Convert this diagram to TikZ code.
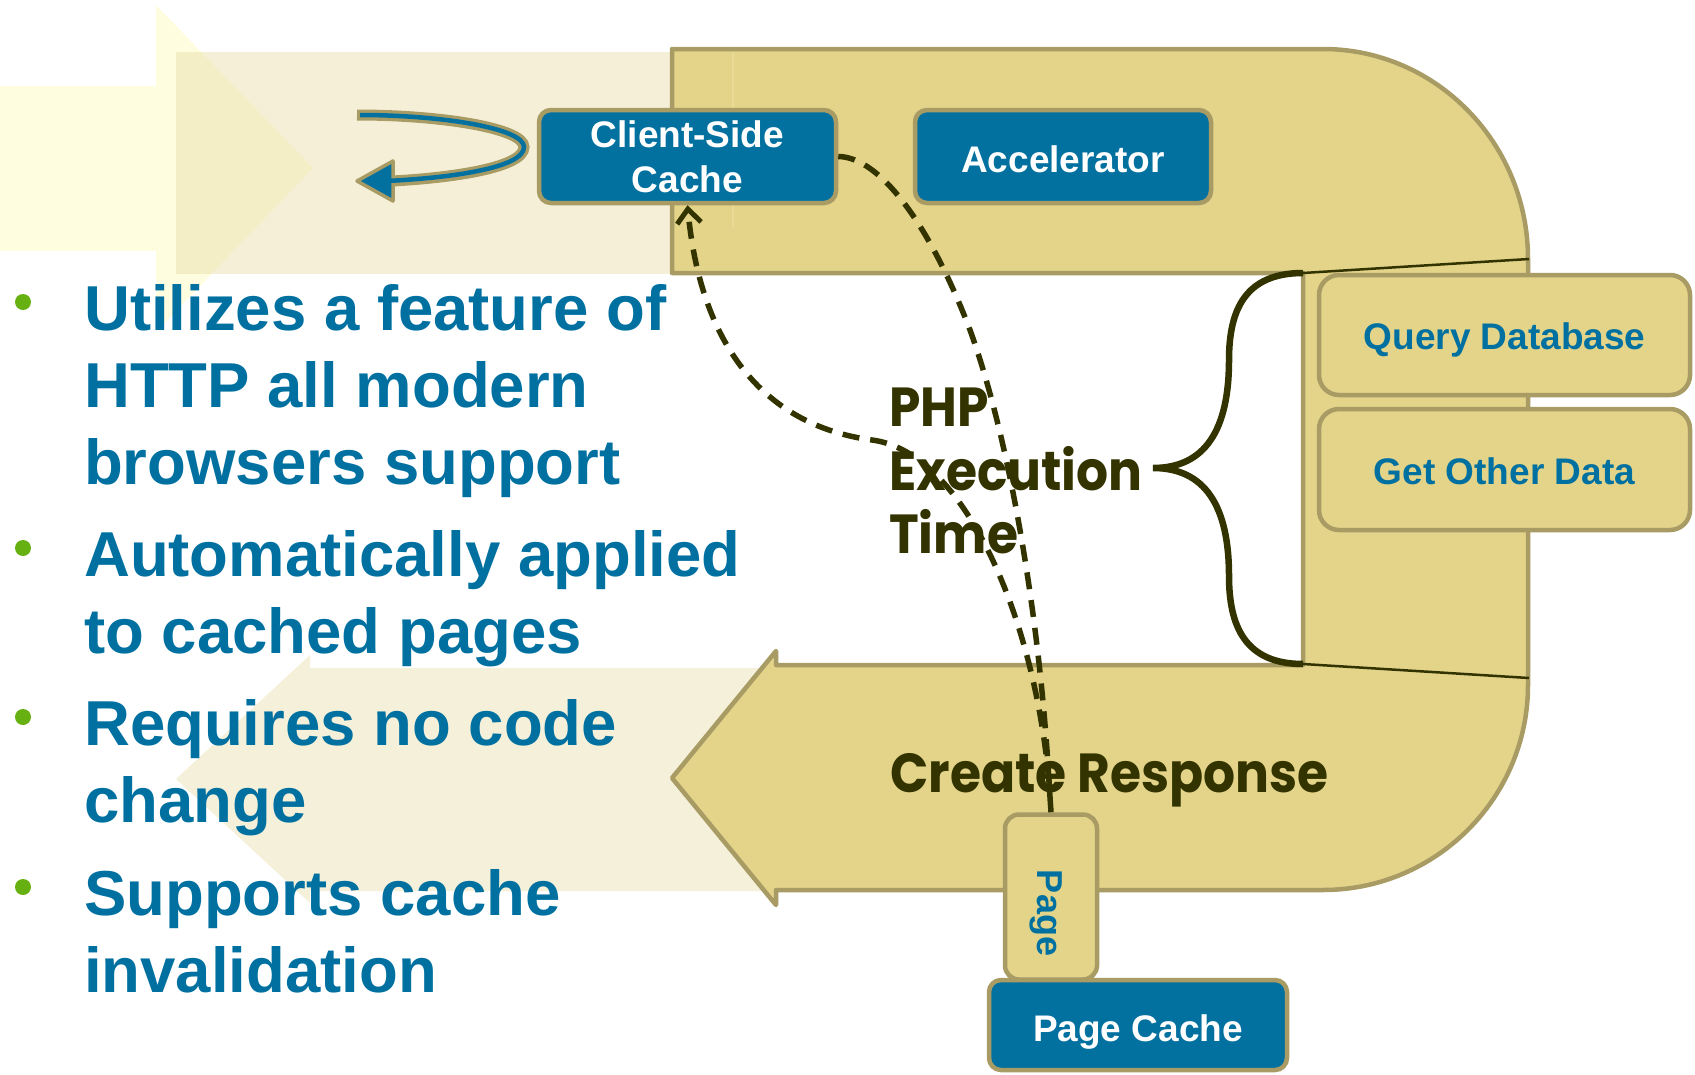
\documentclass[tikz,border=0pt]{standalone}
\usepackage{fontspec}
\setmainfont{Liberation Sans}
\newfontfamily\geofont[FakeStretch=0.915]{Poppins}
\usetikzlibrary{arrows.meta}

\definecolor{tanfill}{HTML}{E3D48A}
\definecolor{tanline}{HTML}{A89B64}
\definecolor{boxblue}{HTML}{0371A0}
\definecolor{textblue}{HTML}{0070A0}
\definecolor{paleyellow}{HTML}{FFFDDF}
\definecolor{bandtone}{HTML}{EBE0B0}
\definecolor{beige}{HTML}{F5F0D9}
\definecolor{darkolive}{HTML}{333300}
\definecolor{dotgreen}{HTML}{66B012}
\definecolor{seam}{HTML}{E9DB97}

\begin{document}
\begin{tikzpicture}[x=1pt,y=-1pt,
  bluebox/.style={draw=tanline, line width=4.5pt, fill=boxblue, rounded corners=12pt,
    text=white, font=\fontsize{37}{45}\selectfont\bfseries, align=center, inner sep=0pt},
  tanbox/.style={draw=tanline, line width=4.5pt, fill=tanfill, rounded corners=20pt,
    text=textblue, font=\fontsize{37}{44}\selectfont\bfseries, inner sep=0pt,
    text height=29pt, text depth=0pt},
  tabbox/.style={draw=tanline, line width=4.5pt, fill=tanfill, rounded corners=14pt, inner sep=0pt},
  bullettext/.style={anchor=base west, inner sep=0pt, text=textblue,
    font=\fontsize{63.5}{77}\selectfont\bfseries},
  geotext/.style={anchor=base west, inner sep=0pt, text=darkolive,
    font=\geofont\fontsize{55}{64}\selectfont\bfseries},
  bulletdot/.style={circle, fill=dotgreen, minimum size=16pt, inner sep=0pt},
  flow/.style={draw=darkolive, line width=5.5pt, dash pattern=on 17pt off 11pt},
]
\useasboundingbox (0,0) rectangle (1695,1074);

% pale incoming arrow behind the top band
\fill[paleyellow] (0,86) -- (156,86) -- (156,5) -- (313,168) -- (156,332) -- (156,251) -- (0,251) -- cycle;
% translucent request band
\fill[bandtone, opacity=0.5] (176,52) rectangle (733,274);
% pale outgoing arrow behind the bullets
\fill[beige] (176,779) -- (310,655) -- (310,668) -- (780,668) -- (780,891) -- (310,891) -- (310,903) -- cycle;

% the request/response loop
\filldraw[fill=tanfill, draw=tanline, line width=4.5pt, line join=round]
  (672,778) -- (776,651) -- (776,665) -- (1303,665) -- (1303,273) -- (672,273) -- (672,49) -- (1323,49)
  .. controls (1436,49) and (1528,143) .. (1528,259)
  -- (1528,685) .. controls (1528,798) and (1436,890) .. (1323,890)
  -- (776,890) -- (776,905) -- cycle;
\draw[seam, line width=1.5pt] (733,53) -- (733,227);

% boxes
\node[bluebox, minimum width=297pt, minimum height=93pt] (csc) at (687.5,156.5) {Client-Side\\Cache};
\node[bluebox, minimum width=296pt, minimum height=93pt, text height=31pt, text depth=0pt] (acc) at (1063,156.5) {Accelerator};
\node[tanbox, minimum width=371pt, minimum height=120pt] (qd) at (1504.5,335) {Query Database};
\node[tanbox, minimum width=371pt, minimum height=121pt] (god) at (1504.5,469.5) {Get Other Data};
\node[tabbox, minimum width=92pt, minimum height=165pt] (tab) at (1051,897) {};
\node[text=textblue, font=\fontsize{36}{43}\selectfont\bfseries, rotate=-90, inner sep=0pt] (tablbl) at (1046,913) {Page};
\node[bluebox, minimum width=298pt, minimum height=90pt, text height=32.5pt, text depth=0pt] (pc) at (1138,1025) {Page Cache};

% PHP execution time and its brace
\node[geotext] (php1) at (889,426) {PHP};
\node[geotext] (php2) at (889,490) {Execution};
\node[geotext] (php3) at (889,553) {Time};
\node[geotext] (resp) at (890,792) {Create Response};

\draw[darkolive, line width=6.5pt]
  (1303,273) .. controls (1245,273) and (1229,310) .. (1229,360)
  .. controls (1229,430) and (1205,468) .. (1153,468)
  .. controls (1205,468) and (1229,506) .. (1229,576)
  .. controls (1229,626) and (1245,664) .. (1303,664);
\draw[darkolive, line width=2.5pt] (1303,273) -- (1529,259);
\draw[darkolive, line width=2.5pt] (1303,664) -- (1529,678);

% cached page paths
\coordinate (join) at (1049,782);
\draw[darkolive, line width=5.5pt] (tab.north) -- (join);
\draw[flow] (csc.east) .. controls (880,157) and (930,225) .. (970,330)
  .. controls (1010,440) and (1040,620) .. (join);
\draw[flow, -{Straight Barb[length=14pt,width=24pt,line width=5pt]}]
  (join) .. controls (1035,620) and (965,452) .. (872,440)
  .. controls (760,425) and (700,340) .. (csc.south);

% browser reuse loop
\draw[tanline, line width=11pt] (357,115) .. controls (440,115) and (524,128) .. (524,147)
  .. controls (524,168) and (450,178) .. (392,181);
\filldraw[fill=boxblue, draw=tanline, line width=3.5pt, line join=round] (357,181) -- (393,161) -- (393,201) -- cycle;
\draw[boxblue, line width=4.5pt] (360,115) .. controls (440,115) and (524,128) .. (524,147)
  .. controls (524,168) and (450,178) .. (386,181);

% bullet list
\node[bulletdot] (d1) at (23,302) {};
\node[bulletdot] (d2) at (23,548) {};
\node[bulletdot] (d3) at (23,717) {};
\node[bulletdot] (d4) at (23,887) {};
\node[bullettext] (l1) at (84,330) {Utilizes a feature of};
\node[bullettext] (l2) at (84,407) {HTTP all modern};
\node[bullettext] (l3) at (84,484) {browsers support};
\node[bullettext] (l4) at (84,576) {Automatically applied};
\node[bullettext] (l5) at (84,653) {to cached pages};
\node[bullettext] (l6) at (84,745) {Requires no code};
\node[bullettext] (l7) at (84,822) {change};
\node[bullettext] (l8) at (84,915) {Supports cache};
\node[bullettext] (l9) at (84,992) {invalidation};
\end{tikzpicture}
\end{document}
